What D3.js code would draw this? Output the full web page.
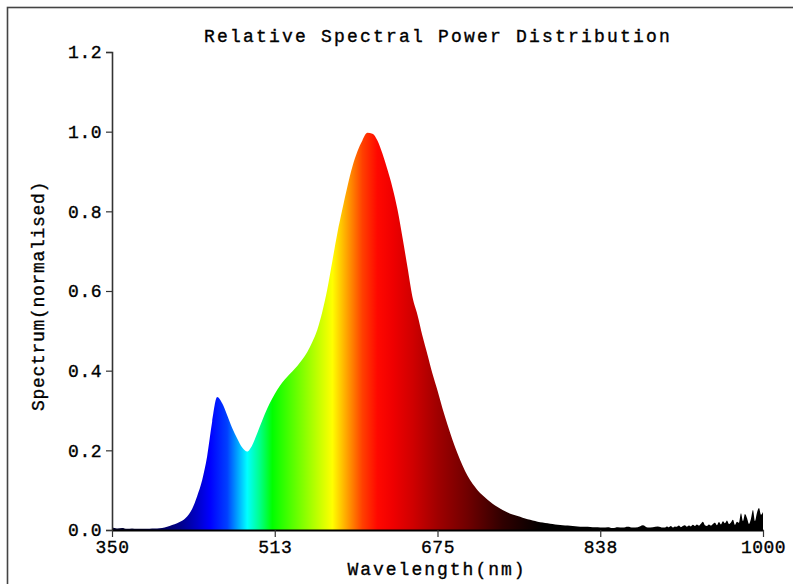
<!DOCTYPE html>
<html>
<head>
<meta charset="utf-8">
<script src="https://cdn.jsdelivr.net/npm/d3@7"></script>
<style>
  body { margin: 0; background: #fff; }
  svg text { font-family: "Liberation Mono", "DejaVu Sans Mono", monospace; fill: #000; stroke: #000; stroke-width: 0.35px; }
</style>
</head>
<body>
<svg id="svg" width="793" height="584"></svg>
<script>
// spectrum, 5 nm steps from 350 to 900 nm
var mainStart = 350, mainStep = 5;
var mainPower = [
  0.006, 0.004, 0.005, 0.003, 0.004, 0.003, 0.003, 0.003, 0.004, 0.004,   // 350-395
  0.005, 0.008, 0.0125, 0.017, 0.023, 0.034, 0.053, 0.085, 0.125, 0.185,  // 400-445
  0.272, 0.334, 0.318, 0.288, 0.256, 0.23, 0.207, 0.197, 0.213, 0.243,    // 450-495
  0.275, 0.305, 0.33, 0.352, 0.37, 0.385, 0.398, 0.412, 0.428, 0.447,     // 500-545
  0.472, 0.503, 0.548, 0.605, 0.675, 0.745, 0.805, 0.862, 0.912, 0.95,    // 550-595
  0.978, 0.997, 0.995, 0.978, 0.945, 0.905, 0.86, 0.805, 0.735, 0.66,     // 600-645
  0.585, 0.54, 0.487, 0.44, 0.392, 0.35, 0.305, 0.264, 0.226, 0.192,      // 650-695
  0.162, 0.136, 0.116, 0.1, 0.087, 0.076, 0.066, 0.058, 0.05, 0.044,      // 700-745
  0.039, 0.035, 0.031, 0.027, 0.024, 0.021, 0.019, 0.017, 0.015, 0.013,   // 750-795
  0.012, 0.011, 0.01, 0.009, 0.008, 0.008, 0.007, 0.007, 0.006, 0.007,    // 800-845
  0.005, 0.007, 0.006, 0.008, 0.006, 0.007, 0.012, 0.006, 0.007, 0.009,   // 850-895
  0.006
];

// noisy tail, 2 nm steps from 900 to 1000 nm
var tailStart = 900, tailStep = 2;
var tailPower = [
  0.008, 0.006, 0.009, 0.007, 0.010, 0.006, 0.009, 0.008, 0.011, 0.007,
  0.010, 0.012, 0.008, 0.011, 0.009, 0.013, 0.010, 0.014, 0.011, 0.016,
  0.021, 0.012, 0.010, 0.014, 0.011, 0.015, 0.018, 0.012, 0.020, 0.014,
  0.022, 0.017, 0.024, 0.015, 0.019, 0.026, 0.013, 0.021, 0.018, 0.042,
  0.022, 0.040, 0.030, 0.015, 0.028, 0.050, 0.022, 0.043, 0.055, 0.038,
  0.045
];

var yTicks = [0, 0.2, 0.4, 0.6, 0.8, 1.0, 1.2];
var xTicks = [350, 512.5, 675, 837.5, 1000];
var xTickLabels = ['350', '513', '675', '838', '1000'];

// wavelength colour stops used for the fill
var stopWl = [380, 400, 420, 435, 448, 465, 475, 485, 497, 510, 530, 550, 570, 580, 590, 600, 615, 630, 650, 675, 705, 740, 780];
var stopColor = ['#000030', '#000060', '#000090', '#0000c8', '#0000ff', '#0040ff', '#00a0ff', '#00ffff', '#00ff90', '#00ff00',
                 '#55ff00', '#aaff00', '#ffff00', '#ffc000', '#ff8000', '#ff4000', '#ff0800', '#f00000', '#d00000', '#a00000',
                 '#700000', '#300000', '#000000'];

var spectrum = [];
mainPower.forEach(function(v, i){ spectrum.push({wl: mainStart + i * mainStep, p: v}); });
tailPower.forEach(function(v, i){ if (i > 0) spectrum.push({wl: tailStart + i * tailStep, p: v}); });

var svg = d3.select('#svg');

// frame
svg.append('rect').attr('x', 7.5).attr('y', 7.5).attr('width', 820).attr('height', 620)
  .attr('fill', 'none').attr('stroke', '#444').attr('stroke-width', 1.6);

var x = d3.scaleLinear().domain([350, 1000]).range([112, 763]);
var y = d3.scaleLinear().domain([0, 1.2]).range([530, 52]);

var grad = svg.append('defs').append('linearGradient')
  .attr('id', 'spec').attr('gradientUnits', 'userSpaceOnUse')
  .attr('x1', x(350)).attr('x2', x(1000)).attr('y1', 0).attr('y2', 0);
stopWl.forEach(function(w, i){
  grad.append('stop').attr('offset', (w - 350) / 650).attr('stop-color', stopColor[i]);
});

var area = d3.area()
  .curve(d3.curveMonotoneX)
  .x(function(d){ return x(d.wl); })
  .y0(y(0))
  .y1(function(d){ return y(d.p); });

svg.append('path').datum(spectrum).attr('d', area).attr('fill', 'url(#spec)');

// axes
var yAxis = svg.append('g').attr('transform', 'translate(112,0)')
  .call(d3.axisLeft(y).tickValues(yTicks).tickFormat(d3.format('.1f')).tickSize(6).tickSizeOuter(6).tickPadding(4));
var xAxis = svg.append('g').attr('transform', 'translate(0,530)')
  .call(d3.axisBottom(x).tickValues(xTicks).tickFormat(function(d, i){ return xTickLabels[i]; }).tickSize(7).tickSizeOuter(0).tickPadding(3));

yAxis.select('.domain').attr('stroke', '#333').attr('stroke-width', 1.6);
xAxis.select('.domain').attr('stroke', '#000').attr('stroke-width', 2);
svg.selectAll('.tick line').attr('stroke', '#333').attr('stroke-width', 1.2);
svg.selectAll('.tick text').attr('font-size', 18).attr('font-family', null).style('letter-spacing', '0.5px');

svg.append('text').attr('x', 438).attr('y', 42).attr('text-anchor', 'middle')
  .attr('font-size', 18).style('letter-spacing', '2.2px').text('Relative Spectral Power Distribution');

svg.append('text').attr('x', 437).attr('y', 575).attr('text-anchor', 'middle')
  .attr('font-size', 18).style('letter-spacing', '2px').text('Wavelength(nm)');

svg.append('text').attr('transform', 'translate(44,296) rotate(-90)').attr('text-anchor', 'middle')
  .attr('font-size', 18).style('letter-spacing', '0.7px').text('Spectrum(normalised)');
</script>
</body>
</html>
